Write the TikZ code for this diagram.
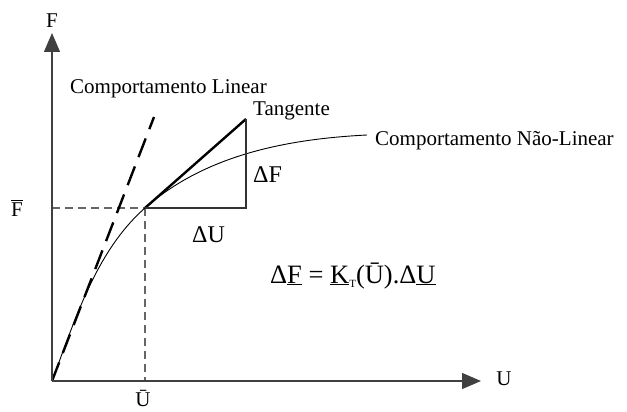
\documentclass[tikz,border=0pt]{standalone}
\usepackage{fontspec}
\setmainfont{Liberation Serif}
\usetikzlibrary{arrows.meta, positioning, calc}
\newcommand{\barF}{\leavevmode\rlap{\rule[0.72em]{0.56em}{0.05em}}F}
\newcommand{\lowT}{\raisebox{-4pt}{\fontsize{11}{11}\selectfont T}}

\begin{document}
\begin{tikzpicture}[
    x=1pt, y=-1pt,
    lbl/.style={font=\fontsize{21}{25}\selectfont, inner sep=0pt},
    biglbl/.style={font=\fontsize{24}{28}\selectfont, inner sep=0pt},
    eqlbl/.style={font=\fontsize{26.5}{30}\selectfont, inner sep=0pt},
    axis/.style={draw=black!75, line width=1.3pt, -{Triangle[length=19pt, width=16pt]}},
    guide/.style={draw=black!60, line width=1.2pt, dash pattern=on 8pt off 5pt},
    thinline/.style={draw=black!80, line width=1.2pt},
    linear/.style={draw=black, line width=2.4pt, dash pattern=on 20pt off 10pt},
    tangent/.style={draw=black, line width=2.4pt},
    curve/.style={draw=black, line width=0.9pt}
  ]
  \useasboundingbox (0,0) rectangle (627,412);

  % points of the graph
  \coordinate (origin) at (52,381);
  \coordinate (ytip) at (52,33);
  \coordinate (xtip) at (481,381);
  \coordinate (p) at (145,208);
  \coordinate (tantop) at (246,119);
  \coordinate (corner) at (246,208);
  \coordinate (lintop) at (154,117);
  \coordinate (curveend) at (367,135);
  \coordinate (fbar) at (52,208);
  \coordinate (ubar) at (145,381);

  % guides to the axes
  \draw[guide] (fbar) -- (p);
  \draw[guide] (p) -- (ubar);

  % curves
  \draw[curve] (origin) .. controls (75,320) and (96,251) .. (p)
                        .. controls (205,155) and (287,139) .. (curveend);
  \draw[linear] (origin) -- (lintop);
  \draw[tangent] (p) -- (tantop);
  \draw[thinline] (tantop) -- (corner) -- (p);

  % axes
  \draw[axis] (origin) -- (ytip);
  \draw[axis] (origin) -- (xtip);

  % labels
  \node[lbl, anchor=base] (flbl) at (52,28) {F};
  \node[lbl, anchor=base] (fbarlbl) at (17,216) {\barF};
  \node[lbl, anchor=base] (ubarlbl) at (143,406) {\=U};
  \node[lbl, anchor=base] (ulbl) at (504,385) {U};
  \node[lbl, anchor=base west] (linlbl) at (70,93) {Comportamento Linear};
  \node[lbl, anchor=base west] (tanlbl) at (253,115) {Tangente};
  \node[lbl, anchor=base west] (nllbl) at (375,145) {Comportamento Não-Linear};
  \node[biglbl, anchor=base west] (dflbl) at (253,182) {ΔF};
  \node[biglbl, anchor=base west] (dulbl) at (192,242) {ΔU};
  \node[eqlbl, anchor=base west] (eq) at (270,283)
    {Δ\underline{F} = \underline{K}\lowT(\=U).Δ\underline{U}};
\end{tikzpicture}
\end{document}
